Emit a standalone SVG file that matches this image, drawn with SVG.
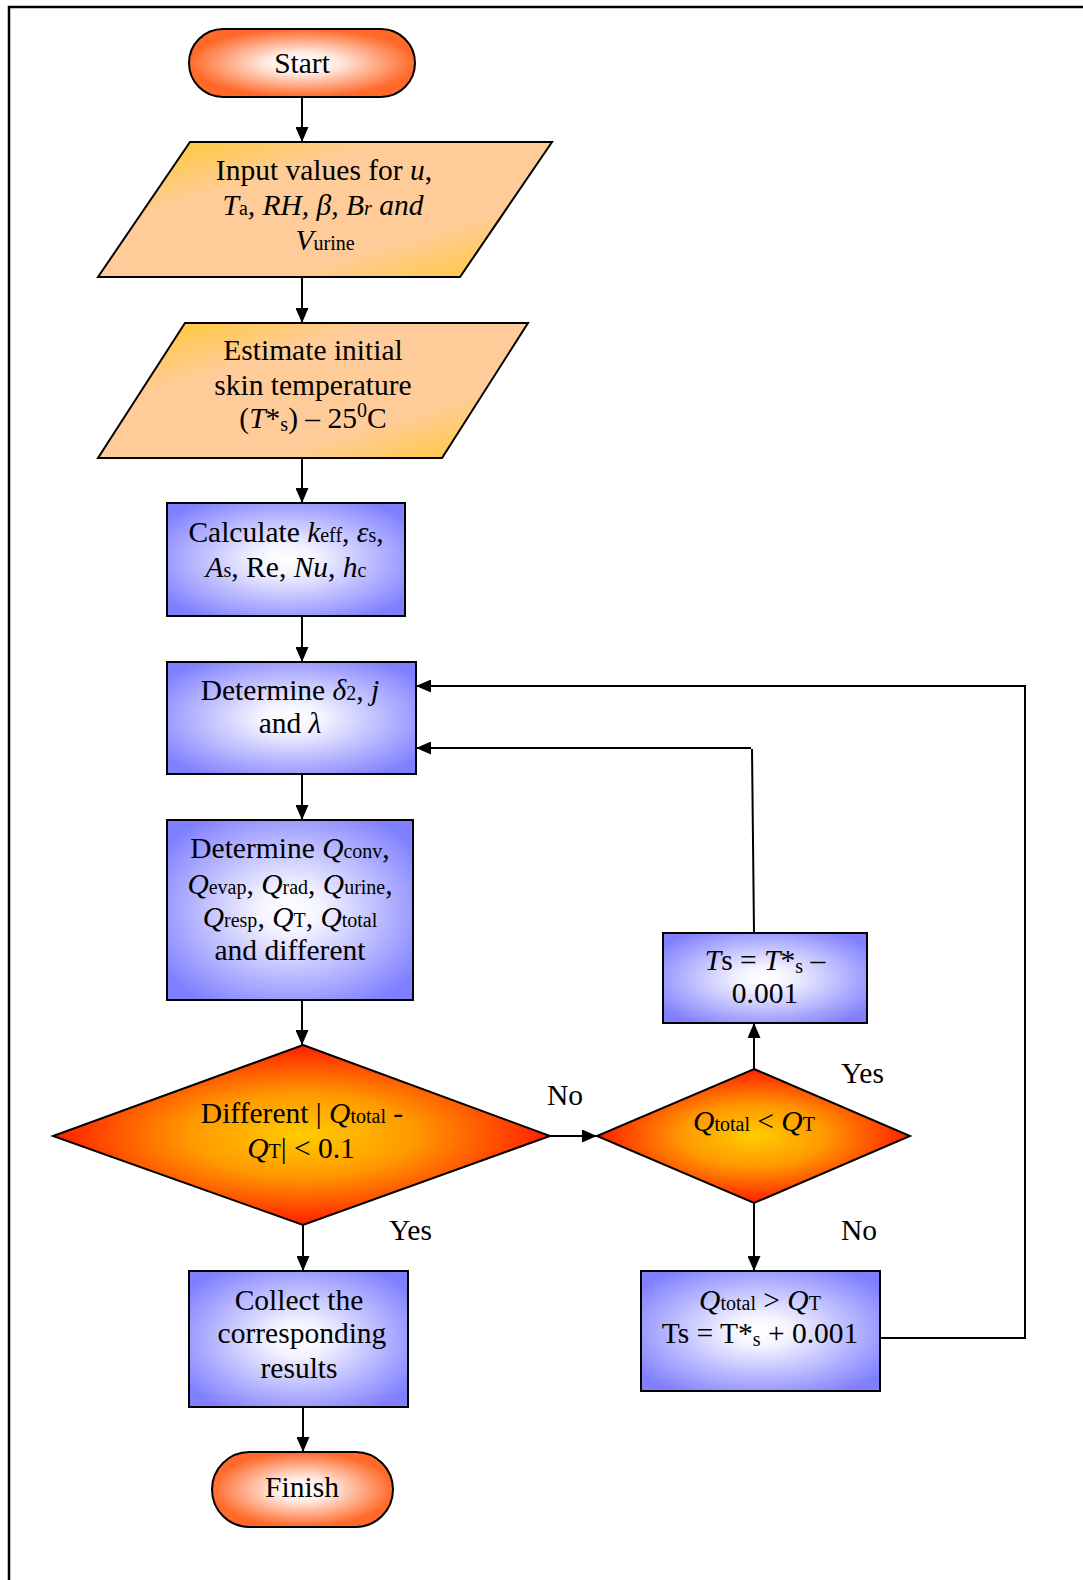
<svg xmlns="http://www.w3.org/2000/svg" width="1083" height="1580" viewBox="0 0 1083 1580">
<style>
text{font-family:"Liberation Serif","Times New Roman",serif;font-size:29.5px;fill:#000;text-anchor:middle}
.lbl{text-anchor:start}
.i{font-style:italic}
.s{font-size:20px}
.shape{stroke:#000;stroke-width:2}
.conn{fill:none;stroke:#000;stroke-width:2}
</style>
<defs>
<radialGradient id="gTerm" cx="0.5" cy="0.5" r="0.5">
<stop offset="0" stop-color="#FFFFFF"/>
<stop offset="0.3" stop-color="#FFEDE6"/>
<stop offset="1" stop-color="#FF6A2A"/>
</radialGradient>
<linearGradient id="gPara" x1="0" y1="0" x2="1" y2="1">
<stop offset="0.05" stop-color="#FFC92E"/>
<stop offset="0.32" stop-color="#FFCC99"/>
<stop offset="0.7" stop-color="#FFCC99"/>
<stop offset="0.98" stop-color="#FFC92E"/>
</linearGradient>
<radialGradient id="gBox" cx="0.5" cy="0.5" r="0.62">
<stop offset="0" stop-color="#FFFFFF"/>
<stop offset="0.2" stop-color="#F4F4FF"/>
<stop offset="1" stop-color="#7F7FFF"/>
</radialGradient>
<radialGradient id="gDia" cx="0.5" cy="0.5" r="0.5">
<stop offset="0" stop-color="#FFCC00"/>
<stop offset="0.45" stop-color="#FF9A00"/>
<stop offset="1" stop-color="#FF1E00"/>
</radialGradient>
<marker id="ah" markerWidth="15" markerHeight="13" refX="15" refY="6.5" orient="auto" markerUnits="userSpaceOnUse">
<path d="M0,0 L15,6.5 L0,13 z" fill="#000"/>
</marker>
</defs>

<g id="border"><path d="M9,1580 V7 H1083" fill="none" stroke="#000" stroke-width="2.5"/></g>

<g id="connectors">
<path class="conn" d="M302,97 V142" marker-end="url(#ah)"/>
<path class="conn" d="M302,277 V323" marker-end="url(#ah)"/>
<path class="conn" d="M302,458 V503" marker-end="url(#ah)"/>
<path class="conn" d="M302,616 V662" marker-end="url(#ah)"/>
<path class="conn" d="M302,774 V820" marker-end="url(#ah)"/>
<path class="conn" d="M302,1000 V1045" marker-end="url(#ah)"/>
<path class="conn" d="M303,1225 V1271" marker-end="url(#ah)"/>
<path class="conn" d="M303,1407 V1452" marker-end="url(#ah)"/>
<path class="conn" d="M550,1136 H597" marker-end="url(#ah)"/>
<path class="conn" d="M754,1069 V1023" marker-end="url(#ah)"/>
<path class="conn" d="M754,1203 V1271" marker-end="url(#ah)"/>
<path class="conn" d="M754,933 L752,749 M751,748 H416" marker-end="url(#ah)"/>
<path class="conn" d="M880,1338 H1025 V686 H416" marker-end="url(#ah)"/>
<text class="lbl" x="547" y="1105">No</text>
<text class="lbl" x="389" y="1240">Yes</text>
<text class="lbl" x="841" y="1083">Yes</text>
<text class="lbl" x="841" y="1240">No</text>
</g>

<g id="start">
<rect class="shape" x="189" y="29" width="226" height="68" rx="34" fill="url(#gTerm)"/>
<text x="302" y="73">Start</text>
</g>

<g id="input">
<polygon class="shape" points="190,142 552,142 460,277 98,277" fill="url(#gPara)"/>
<text x="324" y="180">Input values for <tspan class="i">u</tspan>,</text>
<text x="323" y="215"><tspan class="i">T</tspan><tspan class="s">a</tspan><tspan class="i">, RH, β, B</tspan><tspan class="s i">r</tspan><tspan class="i"> and</tspan></text>
<text x="325" y="250"><tspan class="i">V</tspan><tspan class="s">urine</tspan></text>
</g>

<g id="estimate">
<polygon class="shape" points="185,323 528,323 442,458 98,458" fill="url(#gPara)"/>
<text x="313" y="360">Estimate initial</text>
<text x="313" y="395">skin temperature</text>
<text x="313" y="428">(<tspan class="i">T</tspan>*<tspan class="s" dy="3">s</tspan><tspan dy="-3">) – 25</tspan><tspan class="s" dy="-11">0</tspan><tspan dy="11">C</tspan></text>
</g>

<g id="calculate">
<rect class="shape" x="167" y="503" width="238" height="113" fill="url(#gBox)"/>
<text x="286" y="542">Calculate <tspan class="i">k</tspan><tspan class="s">eff</tspan>, <tspan class="i">ε</tspan><tspan class="s">s</tspan>,</text>
<text x="286" y="577"><tspan class="i">A</tspan><tspan class="s">s</tspan>, Re, <tspan class="i">Nu</tspan>, <tspan class="i">h</tspan><tspan class="s">c</tspan></text>
</g>

<g id="determine1">
<rect class="shape" x="167" y="662" width="249" height="112" fill="url(#gBox)"/>
<text x="290" y="700">Determine <tspan class="i">δ</tspan><tspan class="s">2</tspan>, <tspan class="i">j</tspan></text>
<text x="290" y="733">and <tspan class="i">λ</tspan></text>
</g>

<g id="determine2">
<rect class="shape" x="167" y="820" width="246" height="180" fill="url(#gBox)"/>
<text x="290" y="858">Determine <tspan class="i">Q</tspan><tspan class="s">conv</tspan>,</text>
<text x="290" y="894"><tspan class="i">Q</tspan><tspan class="s">evap</tspan>, <tspan class="i">Q</tspan><tspan class="s">rad</tspan>, <tspan class="i">Q</tspan><tspan class="s">urine</tspan>,</text>
<text x="290" y="927"><tspan class="i">Q</tspan><tspan class="s">resp</tspan>, <tspan class="i">Q</tspan><tspan class="s">T</tspan>, <tspan class="i">Q</tspan><tspan class="s">total</tspan></text>
<text x="290" y="960">and different</text>
</g>

<g id="decision1">
<polygon class="shape" points="303,1045 550,1136 303,1225 53,1136" fill="url(#gDia)"/>
<text x="302" y="1123">Different | <tspan class="i">Q</tspan><tspan class="s">total</tspan> -</text>
<text x="301" y="1158"><tspan class="i">Q</tspan><tspan class="s">T</tspan>| &lt; 0.1</text>
</g>

<g id="decision2">
<polygon class="shape" points="754,1069 910,1136 754,1203 597,1136" fill="url(#gDia)"/>
<text x="754" y="1131"><tspan class="i">Q</tspan><tspan class="s">total</tspan> &lt; <tspan class="i">Q</tspan><tspan class="s">T</tspan></text>
</g>

<g id="decrease">
<rect class="shape" x="663" y="933" width="204" height="90" fill="url(#gBox)"/>
<text x="765" y="970"><tspan class="i">T</tspan>s = <tspan class="i">T</tspan>*<tspan class="s" dy="3">s</tspan><tspan dy="-3"> –</tspan></text>
<text x="765" y="1003">0.001</text>
</g>

<g id="increase">
<rect class="shape" x="641" y="1271" width="239" height="120" fill="url(#gBox)"/>
<text x="760" y="1310"><tspan class="i">Q</tspan><tspan class="s">total</tspan> &gt; <tspan class="i">Q</tspan><tspan class="s">T</tspan></text>
<text x="760" y="1343">Ts = T*<tspan class="s" dy="3">s</tspan><tspan dy="-3"> + 0.001</tspan></text>
</g>

<g id="collect">
<rect class="shape" x="189" y="1271" width="219" height="136" fill="url(#gBox)"/>
<text x="299" y="1310">Collect the</text>
<text x="302" y="1343">corresponding</text>
<text x="299" y="1378">results</text>
</g>

<g id="finish">
<rect class="shape" x="212" y="1452" width="181" height="75" rx="37.5" fill="url(#gTerm)"/>
<text x="302" y="1497">Finish</text>
</g>
</svg>
